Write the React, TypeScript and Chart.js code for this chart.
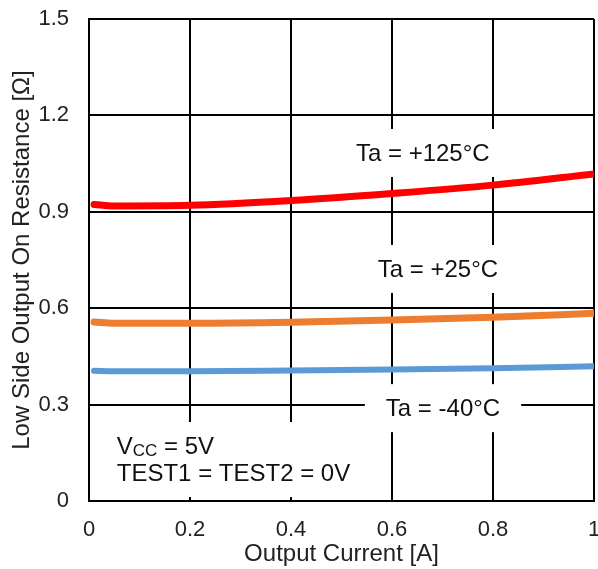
import React, { useEffect, useRef } from "react";
import { Chart, registerables } from "chart.js";

Chart.register(...registerables);

const xRed = [0.01, 0.05, 0.2, 0.4, 0.6, 0.8, 1.0];
const yRed = [0.923, 0.918, 0.92, 0.935, 0.957, 0.983, 1.018];
const xOrange = [0.01, 0.05, 0.2, 0.4, 0.6, 0.8, 1.0];
const yOrange = [0.557, 0.553, 0.553, 0.556, 0.563, 0.572, 0.584];
const xBlue = [0.01, 0.05, 0.2, 0.4, 0.6, 0.8, 1.0];
const yBlue = [0.405, 0.404, 0.404, 0.406, 0.409, 0.413, 0.419];

const tempLabels = ["Ta = +125°C", "Ta = +25°C", "Ta = -40°C"];
const tempLabelX = [0.661, 0.691, 0.701];
const tempLabelY = [1.083, 0.722, 0.289];

const condX = 0.055;
const condY = [0.171, 0.087];

const FONT = "'Liberation Sans', Arial, sans-serif";

const toPts = (xs: number[], ys: number[]) => xs.map((x, i) => ({ x, y: ys[i] }));

const annotationPlugin = {
  id: "annot",
  beforeDatasetsDraw(chart: any) {
    const ctx = chart.ctx;
    const xs = chart.scales.x;
    const ys = chart.scales.y;
    ctx.save();
    ctx.font = `24px ${FONT}`;
    ctx.textBaseline = "middle";
    ctx.textAlign = "center";
    tempLabels.forEach((t, i) => {
      const px = xs.getPixelForValue(tempLabelX[i]);
      const py = ys.getPixelForValue(tempLabelY[i]);
      const w = ctx.measureText(t).width + 42;
      const h = 48;
      ctx.fillStyle = "#fff";
      ctx.fillRect(px - w / 2, py - h / 2, w, h);
      ctx.fillStyle = "#111";
      ctx.fillText(t, px, py + 1);
    });
    const lx = xs.getPixelForValue(condX);
    const y1 = ys.getPixelForValue(condY[0]);
    const y2 = ys.getPixelForValue(condY[1]);
    ctx.textAlign = "left";
    ctx.font = `24px ${FONT}`;
    const w2 = ctx.measureText("TEST1 = TEST2 = 0V").width;
    ctx.fillStyle = "#fff";
    ctx.fillRect(lx - 10, y1 - 24, w2 + 22, y2 - y1 + 48);
    ctx.fillStyle = "#111";
    ctx.fillText("V", lx, y1 + 1);
    const vw = ctx.measureText("V").width;
    ctx.font = `17px ${FONT}`;
    ctx.fillText("CC", lx + vw, y1 + 5);
    const ccw = ctx.measureText("CC").width;
    ctx.font = `24px ${FONT}`;
    ctx.fillText(" = 5V", lx + vw + ccw, y1 + 1);
    ctx.fillText("TEST1 = TEST2 = 0V", lx, y2 + 1);
    ctx.restore();
  },
};

export default function App() {
  const ref = useRef<HTMLCanvasElement>(null);
  useEffect(() => {
    if (!ref.current) return;
    const ds = (data: any[], color: string, w: number) => ({
      data,
      borderColor: color,
      backgroundColor: color,
      borderWidth: w,
      pointRadius: 0,
      cubicInterpolationMode: "monotone" as const,
      borderCapStyle: "round" as const,
      fill: false,
    });
    const chart = new Chart(ref.current, {
      type: "line",
      data: {
        datasets: [
          ds(toPts(xRed, yRed), "#FF0000", 7),
          ds(toPts(xOrange, yOrange), "#ED7D31", 7),
          ds(toPts(xBlue, yBlue), "#5B9BD5", 6),
        ],
      },
      options: {
        animation: false,
        responsive: true,
        maintainAspectRatio: false,
        layout: { padding: { left: 0, top: 19, right: 4, bottom: 0 } },
        plugins: { legend: { display: false }, tooltip: { enabled: false } },
        scales: {
          x: {
            type: "linear",
            min: 0,
            max: 1,
            ticks: {
              stepSize: 0.2,
              padding: 16,
              color: "#222",
              font: { family: FONT, size: 22 },
              maxRotation: 0,
              callback: (v: any) => String(Math.round(Number(v) * 10) / 10),
            },
            grid: { color: "#000", lineWidth: 2, drawTicks: false },
            border: { color: "#000", width: 2 },
            title: {
              display: true,
              text: "Output Current [A]",
              color: "#222",
              font: { family: FONT, size: 24 },
              padding: { top: 0, bottom: 0 },
            },
            afterFit: (s: any) => {
              s.height = 68;
              s.paddingLeft = 0;
              s.paddingRight = 0;
            },
          },
          y: {
            type: "linear",
            min: 0,
            max: 1.5,
            ticks: {
              stepSize: 0.3,
              padding: 20,
              color: "#222",
              font: { family: FONT, size: 22 },
              callback: (v: any) => String(Math.round(Number(v) * 10) / 10),
            },
            grid: { color: "#000", lineWidth: 2, drawTicks: false },
            border: { color: "#000", width: 2 },
            title: {
              display: true,
              text: "Low Side Output On Resistance [Ω]",
              color: "#222",
              font: { family: FONT, size: 24 },
              padding: { top: 8, bottom: 0 },
            },
            afterFit: (s: any) => {
              s.width = 89;
              s.paddingTop = 0;
              s.paddingBottom = 0;
            },
          },
        },
      },
      plugins: [annotationPlugin],
    });
    return () => chart.destroy();
  }, []);
  return (
    <div style={{ position: "absolute", left: 0, top: 0, width: 598, height: 569, background: "#fff" }}>
      <canvas ref={ref} />
    </div>
  );
}
